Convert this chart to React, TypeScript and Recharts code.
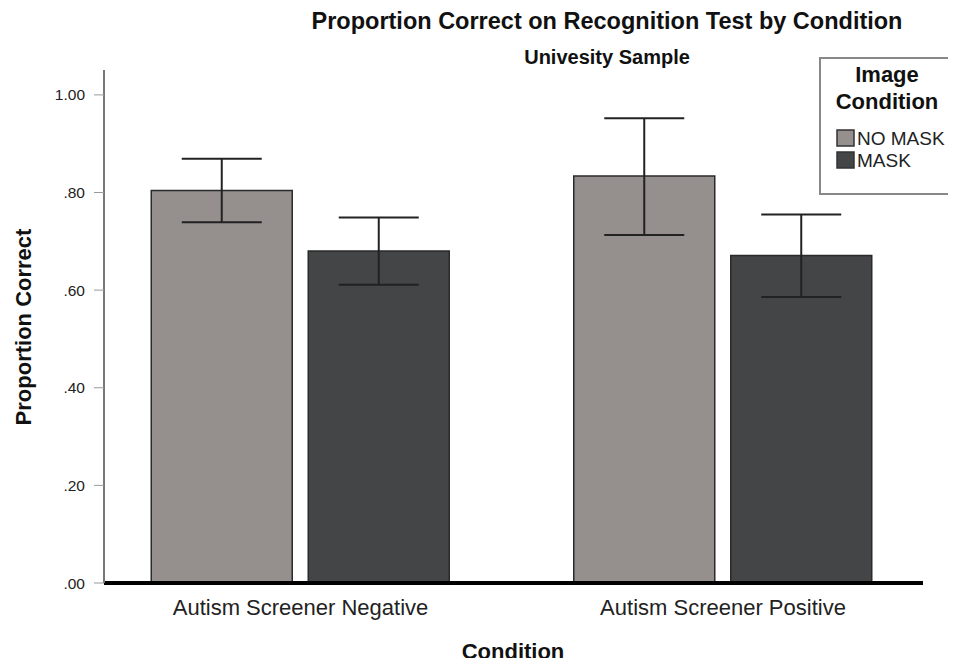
import React from 'react';
import { BarChart, Bar, XAxis, YAxis, ErrorBar } from 'recharts';

const categories = ['Autism Screener Negative', 'Autism Screener Positive'];
const noMaskMean = [0.804, 0.834];
const noMaskLow = [0.739, 0.713];
const noMaskHigh = [0.869, 0.952];
const maskMean = [0.68, 0.671];
const maskLow = [0.611, 0.586];
const maskHigh = [0.749, 0.755];
const yTicks = [0, 0.2, 0.4, 0.6, 0.8, 1.0];

const NO_MASK_COLOR = '#958f8e';
const MASK_COLOR = '#444547';

const data = categories.map((c, i) => ({
  name: c,
  noMask: noMaskMean[i],
  noMaskErr: [noMaskMean[i] - noMaskLow[i], noMaskHigh[i] - noMaskMean[i]],
  mask: maskMean[i],
  maskErr: [maskMean[i] - maskLow[i], maskHigh[i] - maskMean[i]],
}));

const fmt = (v: number) => v.toFixed(2).replace(/^0/, '');

const FONT = '"Liberation Sans", Arial, sans-serif';

export default function App() {
  return (
    <div style={{ position: 'relative', width: 940, height: 650, fontFamily: FONT }}>
      <BarChart
        width={940}
        height={650}
        data={data}
        margin={{ top: 62, right: 25, bottom: 15, left: 30 }}
        barSize={141}
        barGap={16}
      >
        <XAxis
          dataKey="name"
          height={60}
          padding={{ left: -14.75, right: -11.25 }}
          axisLine={{ stroke: '#000', strokeWidth: 4 }}
          tickLine={false}
          tickSize={0}
          tickMargin={16}
          tick={{ fontSize: 22, fill: '#222', fontFamily: FONT }}
        />
        <YAxis
          width={66}
          domain={[0, 1.051]}
          ticks={yTicks}
          tickFormatter={fmt}
          allowDataOverflow
          axisLine={{ stroke: '#777', strokeWidth: 2 }}
          tickLine={{ stroke: '#999', strokeWidth: 1 }}
          tickSize={10}
          tickMargin={9}
          tick={{ fontSize: 15.5, fill: '#222', fontFamily: FONT }}
        />
        <Bar dataKey="noMask" fill={NO_MASK_COLOR} stroke="#2a2a2a" strokeWidth={1.5} isAnimationActive={false}>
          <ErrorBar dataKey="noMaskErr" width={40} stroke="#222" strokeWidth={2} direction="y" />
        </Bar>
        <Bar dataKey="mask" fill={MASK_COLOR} stroke="#2a2a2a" strokeWidth={1.5} isAnimationActive={false}>
          <ErrorBar dataKey="maskErr" width={40} stroke="#222" strokeWidth={2} direction="y" />
        </Bar>
      </BarChart>
      <svg
        width={956}
        height={666}
        style={{ position: 'absolute', left: -8, top: -8, pointerEvents: 'none', fontFamily: FONT, overflow: 'visible' }}
      >
        <text x={607} y={29} fontSize={23.5} fontWeight="bold" fill="#111" textAnchor="middle">
          Proportion Correct on Recognition Test by Condition
        </text>
        <text x={607} y={64} fontSize={20} fontWeight="bold" fill="#111" textAnchor="middle">
          Univesity Sample
        </text>
        <text x={31} y={327} fontSize={22} fontWeight="bold" fill="#111" textAnchor="middle" transform="rotate(-90, 31, 327)">
          Proportion Correct
        </text>
        <text x={513} y={659} fontSize={22} fontWeight="bold" fill="#111" textAnchor="middle">
          Condition
        </text>
        <rect x={820} y={58} width={130} height={136} fill="#fff" stroke="#888" strokeWidth={2} />
        <text x={887} y={82} fontSize={22} fontWeight="bold" fill="#111" textAnchor="middle">Image</text>
        <text x={887} y={109} fontSize={22} fontWeight="bold" fill="#111" textAnchor="middle">Condition</text>
        <rect x={837} y={130} width={17} height={16} fill={NO_MASK_COLOR} stroke="#333" strokeWidth={1.5} />
        <text x={857} y={145} fontSize={19} fill="#222">NO MASK</text>
        <rect x={837} y={152} width={17} height={16} fill={MASK_COLOR} stroke="#333" strokeWidth={1.5} />
        <text x={857} y={167} fontSize={19} fill="#222">MASK</text>
      </svg>
    </div>
  );
}
